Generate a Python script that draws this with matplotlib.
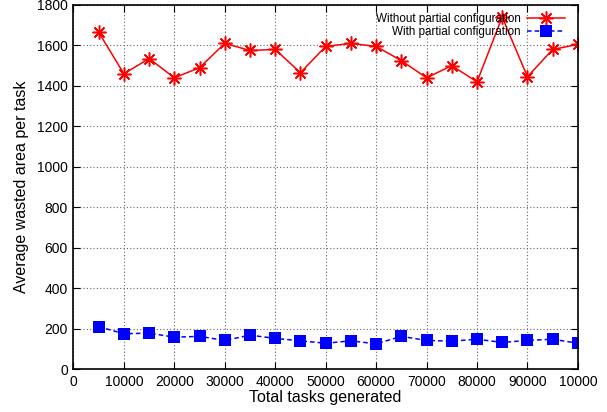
import matplotlib
matplotlib.use("Agg")
import matplotlib.pyplot as plt

plt.rcParams["font.family"] = ["Liberation Sans", "DejaVu Sans"]

tasks = [5000, 10000, 15000, 20000, 25000, 30000, 35000, 40000, 45000, 50000,
         55000, 60000, 65000, 70000, 75000, 80000, 85000, 90000, 95000, 100000]
without_partial = [1665, 1460, 1535, 1440, 1490, 1610, 1575, 1580, 1465, 1595,
                   1610, 1595, 1525, 1440, 1500, 1420, 1740, 1445, 1580, 1605]
with_partial = [210, 175, 178, 158, 162, 142, 168, 152, 140, 128,
                140, 125, 162, 142, 138, 148, 132, 142, 148, 128]

x_ticks = [0, 10000, 20000, 30000, 40000, 50000, 60000, 70000, 80000, 90000, 100000]
x_labels = ["0", "10000", "20000", "30000", "40000", "50000", "60000", "70000",
            "80000", "90000", "10000"]
y_ticks = [0, 200, 400, 600, 800, 1000, 1200, 1400, 1600, 1800]

fig = plt.figure(figsize=(6.07, 4.12), dpi=100)
ax = fig.add_axes([0.121, 0.104, 0.831, 0.884])

ax.plot(tasks, without_partial, color="#ff0000", lw=1.1, marker=(8, 2, 0),
        markersize=10, markeredgewidth=1.1, label="Without partial configuration")
ax.plot(tasks, with_partial, color="#0000ff", lw=1.1, ls=(0, (3, 2)), marker="s",
        markersize=8.5, markeredgewidth=0, label="With partial configuration")

ax.set_xlim(0, 100000)
ax.set_ylim(0, 1800)
ax.set_xticks(x_ticks)
ax.set_xticklabels(x_labels)
ax.set_yticks(y_ticks)
ax.tick_params(direction="in", top=True, right=True, labelsize=10, length=5, pad=4)
ax.grid(True, color="#666666", ls=(0, (1, 2)), lw=0.8)
for s in ax.spines.values():
    s.set_linewidth(1.2)

ax.set_xlabel("Total tasks generated", fontsize=11.5, labelpad=1)
ax.set_ylabel("Average wasted area per task", fontsize=11.5, labelpad=6)

ax.legend(loc="upper right", bbox_to_anchor=(0.974, 0.979), frameon=False,
          markerfirst=False, fontsize=8.4, handlelength=3.2, borderaxespad=0,
          borderpad=0, labelspacing=0.1, handletextpad=0.6)

fig.savefig("out.png", dpi=100)
